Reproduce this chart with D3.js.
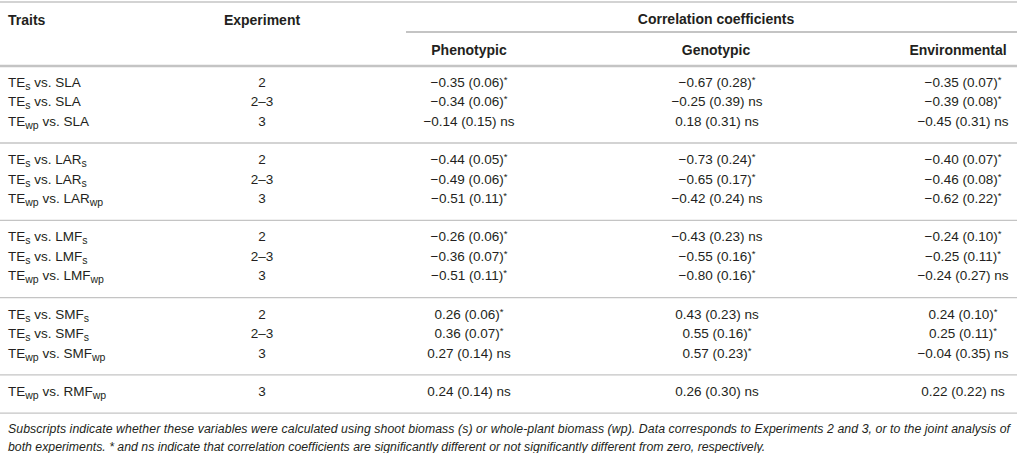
<!DOCTYPE html>
<html>
<head>
<meta charset="utf-8">
<script src="https://cdn.jsdelivr.net/npm/d3@7"></script>
<style>
  body { margin: 0; background: #fff; }
  svg text { font-family: "Liberation Sans", Arial, sans-serif; fill: #231f20; }
</style>
</head>
<body>
<svg id="table" width="1017" height="453"></svg>
<script>
// rows of the table: trait pairs use "_{..}" for subscripts
const traits = [
  'TE_{s} vs. SLA', 'TE_{s} vs. SLA', 'TE_{wp} vs. SLA',
  'TE_{s} vs. LAR_{s}', 'TE_{s} vs. LAR_{s}', 'TE_{wp} vs. LAR_{wp}',
  'TE_{s} vs. LMF_{s}', 'TE_{s} vs. LMF_{s}', 'TE_{wp} vs. LMF_{wp}',
  'TE_{s} vs. SMF_{s}', 'TE_{s} vs. SMF_{s}', 'TE_{wp} vs. SMF_{wp}',
  'TE_{wp} vs. RMF_{wp}',
];
const experiments = ['2', '2–3', '3', '2', '2–3', '3', '2', '2–3', '3', '2', '2–3', '3', '3'];
const groups = [0, 0, 0, 1, 1, 1, 2, 2, 2, 3, 3, 3, 4];

const phenoR = [-0.35, -0.34, -0.14, -0.44, -0.49, -0.51, -0.26, -0.36, -0.51, 0.26, 0.36, 0.27, 0.24];
const phenoSE = [0.06, 0.06, 0.15, 0.05, 0.06, 0.11, 0.06, 0.07, 0.11, 0.06, 0.07, 0.14, 0.14];
const phenoSig = [1, 1, 0, 1, 1, 1, 1, 1, 1, 1, 1, 0, 0];

const genoR = [-0.67, -0.25, 0.18, -0.73, -0.65, -0.42, -0.43, -0.55, -0.80, 0.43, 0.55, 0.57, 0.26];
const genoSE = [0.28, 0.39, 0.31, 0.24, 0.17, 0.24, 0.23, 0.16, 0.16, 0.23, 0.16, 0.23, 0.30];
const genoSig = [1, 0, 0, 1, 1, 0, 0, 1, 1, 0, 1, 1, 0];

const envR = [-0.35, -0.39, -0.45, -0.40, -0.46, -0.62, -0.24, -0.25, -0.24, 0.24, 0.25, -0.04, 0.22];
const envSE = [0.07, 0.08, 0.31, 0.07, 0.08, 0.22, 0.10, 0.11, 0.27, 0.10, 0.11, 0.35, 0.22];
const envSig = [1, 1, 0, 1, 1, 1, 1, 1, 0, 1, 1, 0, 0];

const columns = ['Traits', 'Experiment', 'Phenotypic', 'Genotypic', 'Environmental'];
const spanTitle = 'Correlation coefficients';
const footnote = [
  'Subscripts indicate whether these variables were calculated using shoot biomass (s) or whole-plant biomass (wp). Data corresponds to Experiments 2 and 3, or to the joint analysis of',
  'both experiments. * and ns indicate that correlation coefficients are significantly different or not significantly different from zero, respectively.',
];

const width = 1017;
const svg = d3.select('#table');

const x = d3.scaleOrdinal()
  .domain(columns)
  .range([8, 262, 469, 716, 958]);
// small nudge of value text relative to the column header
const valueShift = { Phenotypic: 0, Genotypic: 1, Environmental: 5 };

// vertical position: row slot inside group + group offset
const rowStep = 19.5;
const groupStep = 77.3;
const y = d3.scaleLinear().domain([0, 1]).range([82, 82 + groupStep]);
const rowY = (i) => {
  const g = groups[i];
  const k = groups.slice(0, i).filter(v => v === g).length;
  return y(g) + k * rowStep;
};

const fmt = d3.format('.2f');
const num = v => fmt(v).replace('-', '−');

// rules
const rule = (x1, x2, yy, w, c) => svg.append('line')
  .attr('x1', x1).attr('x2', x2).attr('y1', yy).attr('y2', yy)
  .attr('stroke', c).attr('stroke-width', w);

rule(0, width, 2, 1.5, '#c4c4c4');
rule(406, width, 32, 2, '#c4c4c4');
rule(0, width, 66, 2.5, '#c4c4c4');
d3.range(5).forEach((g) => {
  const last = groups.lastIndexOf(g);
  rule(0, width, rowY(last) + 22, 1.3, '#c4c4c4');
});

// header
const head = svg.append('g').style('font-weight', 'bold').style('font-size', '14px');
head.append('text').attr('x', x('Traits')).attr('y', 25).text('Traits');
head.append('text').attr('x', x('Experiment')).attr('y', 25)
  .attr('text-anchor', 'middle').text('Experiment');
head.append('text').attr('x', 716).attr('y', 24)
  .attr('text-anchor', 'middle').text(spanTitle);
columns.slice(2).forEach((c) => {
  head.append('text').attr('x', x(c)).attr('y', 55)
    .attr('text-anchor', 'middle').text(c);
});

// body
const body = svg.append('g').style('font-size', '13.5px');

traits.forEach((t, i) => {
  const txt = body.append('text')
    .attr('x', x('Traits'))
    .attr('y', rowY(i))
    .attr('dy', '0.35em');
  t.split(/(_\{[^}]*\})/).filter(s => s).forEach((part) => {
    if (part.startsWith('_{')) {
      txt.append('tspan')
        .attr('baseline-shift', -3)
        .style('font-size', '10.5px')
        .text(part.slice(2, -1));
    } else {
      txt.append('tspan').text(part);
    }
  });

  body.append('text')
    .attr('x', x('Experiment'))
    .attr('y', rowY(i))
    .attr('dy', '0.35em')
    .attr('text-anchor', 'middle')
    .text(experiments[i]);
});

const addValues = (col, r, se, sig) => {
  r.forEach((v, i) => {
    const txt = body.append('text')
      .attr('x', x(col) + valueShift[col])
      .attr('y', rowY(i))
      .attr('dy', '0.35em')
      .attr('text-anchor', 'middle');
    txt.append('tspan').text(`${num(v)} (${fmt(se[i])})`);
    if (sig[i]) {
      txt.append('tspan')
        .attr('baseline-shift', 4)
        .style('font-size', '9.5px')
        .text('*');
    } else {
      txt.append('tspan').text(' ns');
    }
  });
};

addValues('Phenotypic', phenoR, phenoSE, phenoSig);
addValues('Genotypic', genoR, genoSE, genoSig);
addValues('Environmental', envR, envSE, envSig);

// footnote
svg.append('g').style('font-size', '12.3px').style('font-style', 'italic')
  .selectAll('text')
  .data(footnote)
  .enter().append('text')
  .attr('x', 8)
  .attr('y', (d, i) => 433 + i * 18)
  .attr('textLength', (d, i) => (i === 0 ? 1002 : null))
  .attr('lengthAdjust', 'spacing')
  .text(d => d);
</script>
</body>
</html>
